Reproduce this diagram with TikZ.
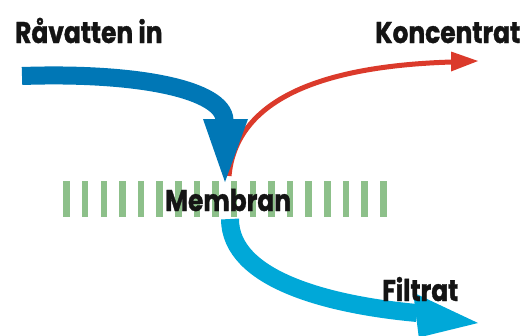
\documentclass[tikz,border=0pt]{standalone}
\usepackage{fontspec}
\newfontfamily\lblfont{Poppins}[FakeStretch=0.83,FakeBold=1.2]
\definecolor{barg}{RGB}{141,192,138}
\definecolor{inblue}{RGB}{0,119,182}
\definecolor{outblue}{RGB}{0,168,216}
\definecolor{konred}{RGB}{219,58,43}
\begin{document}
\begin{tikzpicture}[x=1pt,y=-1pt,
  lbl/.style={font=\lblfont\bfseries\fontsize{30}{30}\selectfont, inner sep=0pt, anchor=base west, text=black!92},
  bar/.style={fill=barg, draw=none}]
\useasboundingbox (0,0) rectangle (527,335);
\clip (0,0) rectangle (527,335);
% membrane bars
\foreach \i in {0,...,17} {
  \fill[bar] ({63.3+18.63*\i},181) rectangle ({69.8+18.63*\i},217);
}
% red concentrate arrow
\coordinate (rs) at (229,176);
\coordinate (re) at (452,62);
\coordinate (rt) at (478,61);
\draw[konred, line width=5] (rs) .. controls (236,100) and (320,66) .. (re);
\fill[konred] (451,51.5) -- (rt) -- (451,71.5) -- cycle;
% dark blue inlet arrow
\coordinate (bs) at (22,76);
\coordinate (be) at (224.5,120);
\coordinate (bt) at (225,182);
\draw[inblue, line width=18] (bs) .. controls (140,72) and (223,90) .. (be);
\fill[inblue] (203,119) -- (248,119) -- (bt) -- cycle;
% light blue filtrate arrow
\coordinate (fs) at (230,219);
\coordinate (fe) at (417,313);
\coordinate (ft) at (478,323);
\draw[outblue, line width=18] (fs) .. controls (230,280) and (330,305) .. (fe);
\fill[outblue] (413.2,292.5) -- (ft) -- (418.8,337.5) -- cycle;
% labels
\node[lbl] (rav) at (15,43) {Råvatten in};
\node[lbl] (kon) at (375,43) {Koncentrat};
\node[lbl] (mem) at (165,211) {Membran};
\node[lbl] (fil) at (382,301) {Filtrat};
\end{tikzpicture}
\end{document}
